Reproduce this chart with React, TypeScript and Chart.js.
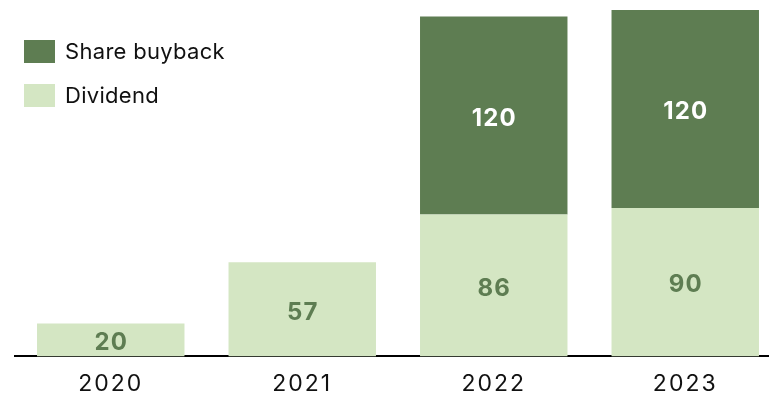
import React, { useEffect, useRef } from "react";
import { Chart, registerables } from "chart.js";

Chart.register(...registerables);

const years = ["2020", "2021", "2022", "2023"];
const dividend = [20, 57, 86, 90];
const buyback = [null, null, 120, 120];
const seriesNames = ["Share buyback", "Dividend"];

const DARK = "#5e7d52";
const LIGHT = "#d4e6c3";
const FONT = "Inter, 'Liberation Sans', Arial, sans-serif";

const spacingPlugin = {
  id: "spacing",
  beforeDraw(chart: any) {
    chart.ctx.letterSpacing = "2px";
  },
};

const labelPlugin = {
  id: "valueLabels",
  afterDatasetsDraw(chart: any) {
    const ctx = chart.ctx;
    ctx.save();
    ctx.font = `bold 24px ${FONT}`;
    ctx.letterSpacing = "1.2px";
    ctx.textAlign = "center";
    ctx.textBaseline = "middle";
    chart.data.datasets.forEach((ds: any, di: number) => {
      const meta = chart.getDatasetMeta(di);
      meta.data.forEach((bar: any, i: number) => {
        const v = ds.data[i];
        if (v == null) return;
        const cy = (bar.y + bar.base) / 2 + 3;
        ctx.fillStyle = di === 0 ? DARK : "#ffffff";
        ctx.fillText(String(v), bar.x + 0.6, cy);
      });
    });
    ctx.restore();
  },
};

const legendPlugin = {
  id: "customLegend",
  afterDraw(chart: any) {
    const ctx = chart.ctx;
    ctx.save();
    const items = [
      { name: seriesNames[0], color: DARK, y: 40 },
      { name: seriesNames[1], color: LIGHT, y: 84 },
    ];
    ctx.font = `22px ${FONT}`;
    ctx.letterSpacing = "0.3px";
    ctx.textAlign = "left";
    ctx.textBaseline = "middle";
    items.forEach((it) => {
      ctx.fillStyle = it.color;
      ctx.fillRect(24, it.y, 31, 23);
      ctx.fillStyle = "#111111";
      ctx.fillText(it.name, 65, it.y + 12);
    });
    ctx.restore();
  },
};

export default function App() {
  const ref = useRef<HTMLCanvasElement>(null);
  useEffect(() => {
    if (!ref.current) return;
    const chart = new Chart(ref.current, {
      type: "bar",
      data: {
        labels: years,
        datasets: [
          {
            label: seriesNames[1],
            data: dividend,
            backgroundColor: LIGHT,
            barPercentage: 0.77,
            categoryPercentage: 1,
          },
          {
            label: seriesNames[0],
            data: buyback as any,
            backgroundColor: DARK,
            barPercentage: 0.77,
            categoryPercentage: 1,
          },
        ],
      },
      options: {
        animation: false,
        responsive: false,
        maintainAspectRatio: false,
        layout: { padding: { left: 15, right: 0, top: 0, bottom: -10 } },
        plugins: {
          legend: { display: false },
          tooltip: { enabled: false },
        },
        scales: {
          x: {
            stacked: true,
            grid: { display: false },
            border: { display: true, color: "#000000", width: 2 },
            ticks: {
              color: "#111111",
              font: { family: FONT, size: 23 },
              padding: 6,
            },
          },
          y: {
            stacked: true,
            display: false,
            min: 0,
            max: 216,
          },
        },
      },
      plugins: [spacingPlugin, labelPlugin, legendPlugin],
    });
    return () => chart.destroy();
  }, []);
  return (
    <div
      style={{
        position: "fixed",
        left: 0,
        top: 0,
        width: 769,
        height: 394,
        overflow: "hidden",
        background: "#ffffff",
      }}
    >
      <canvas ref={ref} width={781} height={394} style={{ display: "block" }} />
    </div>
  );
}
